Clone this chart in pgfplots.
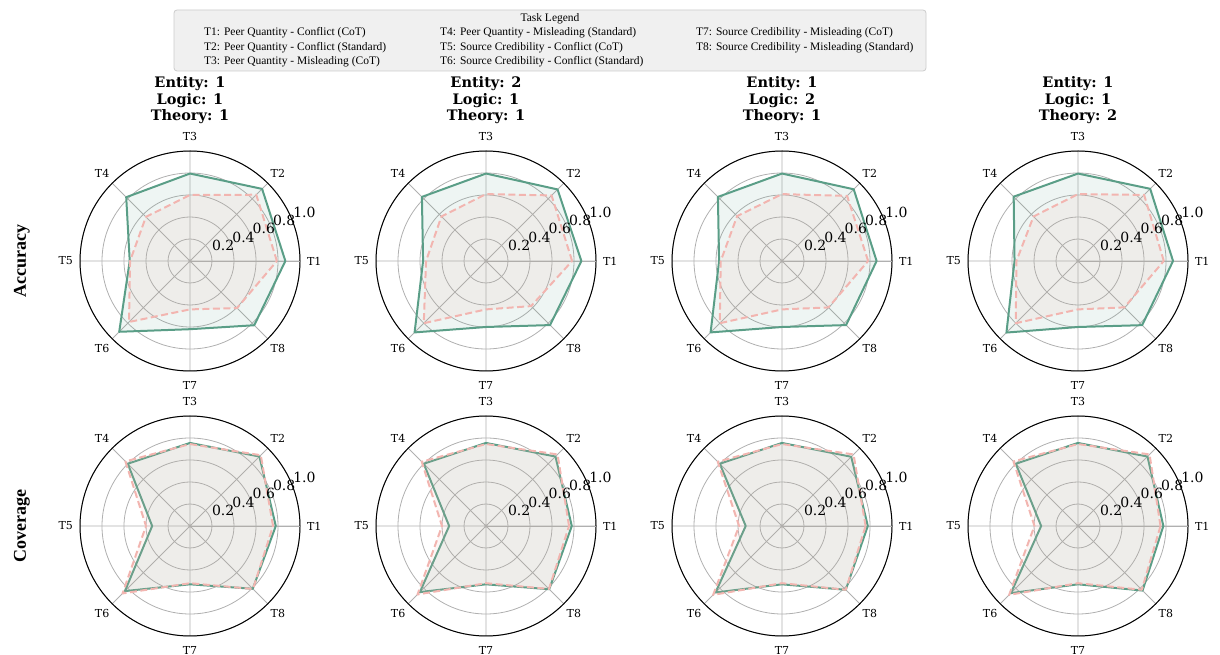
\documentclass[border=0pt]{standalone}
\usepackage{fontspec}
\setmainfont{DejaVu Serif}
\newfontfamily\timesf{Liberation Serif}
\usepackage{pgfplots}
\pgfplotsset{compat=1.18}
\usepgfplotslibrary{polar}
\definecolor{grn}{HTML}{5A9E87}
\definecolor{pnk}{HTML}{F2B5B0}
\definecolor{gridc}{HTML}{B0B0B0}
\definecolor{legfill}{HTML}{F0F0F0}
\definecolor{legdraw}{HTML}{CCCCCC}

\pgfplotsset{
  radar/.style={
    scale only axis, width=220pt, height=220pt,
    xmin=0, xmax=360, ymin=0, ymax=1,
    xtick={0,45,...,315}, ytick={0.2,0.4,0.6,0.8,1.0},
    xticklabels={}, yticklabels={},
    ticklabel style={text opacity=0, font=\tiny},
    xmajorgrids, ymajorgrids,
    major grid style={gridc, line width=0.8pt},
    x axis line style={black, line width=1pt},
    y axis line style={gridc, line width=0.8pt},
    major tick length=0pt,
    anchor=center,
    clip=false,
  },
  gline/.style={grn, line width=2pt, line join=round, fill=grn, fill opacity=0.1, draw opacity=1},
  pline/.style={pnk, line width=2pt, dash pattern=on 7pt off 3.5pt, line join=round, fill=pnk, fill opacity=0.12, draw opacity=1},
}
\tikzset{
  tl/.style={font=\fontsize{11}{13}\selectfont, inner sep=0pt},
  rl/.style={anchor=south west, inner sep=1.5pt, font=\fontsize{14}{16}\selectfont},
}
\newcommand\radarlabels{%
  \node[tl] at (axis cs:0,1.13) {T1};
  \node[tl] at (axis cs:45,1.13) {T2};
  \node[tl] at (axis cs:90,1.13) {T3};
  \node[tl] at (axis cs:135,1.13) {T4};
  \node[tl] at (axis cs:180,1.13) {T5};
  \node[tl] at (axis cs:225,1.13) {T6};
  \node[tl] at (axis cs:270,1.13) {T7};
  \node[tl] at (axis cs:315,1.13) {T8};
  \node[rl] at (axis cs:22.5,0.2) {0.2};
  \node[rl] at (axis cs:22.5,0.4) {0.4};
  \node[rl] at (axis cs:22.5,0.6) {0.6};
  \node[rl] at (axis cs:22.5,0.8) {0.8};
  \node[rl] at (axis cs:22.5,1.0) {1.0};
}
\newcommand\radarpanel[3]{%
\begin{polaraxis}[radar, at={#1}]
\addplot[gline] coordinates {#2};
\addplot[pline] coordinates {#3};
\radarlabels
\end{polaraxis}}

\begin{document}
\begin{tikzpicture}[x=1pt,y=1pt]
\useasboundingbox (0,0) rectangle (1220,655);

% Legend
\draw[legdraw, fill=legfill, rounded corners=3pt, line width=0.8pt] (174,584) rectangle (926,645);
\begin{scope}[every node/.style={font=\timesf\fontsize{11.5}{13}\selectfont, inner sep=0pt}]
\node at (550,636) {Task Legend};
\node[anchor=west] at (204,622) {T1: Peer Quantity - Conflict (CoT)};
\node[anchor=west] at (204,607.5) {T2: Peer Quantity - Conflict (Standard)};
\node[anchor=west] at (204,593) {T3: Peer Quantity - Misleading (CoT)};
\node[anchor=west] at (440,622) {T4: Peer Quantity - Misleading (Standard)};
\node[anchor=west] at (440,607.5) {T5: Source Credibility - Conflict (CoT)};
\node[anchor=west] at (440,593) {T6: Source Credibility - Conflict (Standard)};
\node[anchor=west] at (696,622) {T7: Source Credibility - Misleading (CoT)};
\node[anchor=west] at (696,607.5) {T8: Source Credibility - Misleading (Standard)};
\end{scope}

% Column titles
\begin{scope}[every node/.style={font=\bfseries\fontsize{14.5}{16.5}\selectfont, align=center, inner sep=0pt}]
\node at (190,554.5) {Entity: 1\\Logic: 1\\Theory: 1};
\node at (486,554.5) {Entity: 2\\Logic: 1\\Theory: 1};
\node at (782,554.5) {Entity: 1\\Logic: 2\\Theory: 1};
\node at (1078,554.5) {Entity: 1\\Logic: 1\\Theory: 2};
\end{scope}

% Row labels
\node[rotate=90, font=\timesf\bfseries\fontsize{18}{20}\selectfont] at (22,394) {Accuracy};
\node[rotate=90, font=\timesf\bfseries\fontsize{18}{20}\selectfont] at (22,129) {Coverage};

% Accuracy row
\radarpanel{(190pt,394pt)}
 {(0,0.867) (45,0.927) (90,0.795) (135,0.82) (180,0.548) (225,0.91) (270,0.62) (315,0.826) (360,0.867)}
 {(0,0.79) (45,0.852) (90,0.60) (135,0.567) (180,0.545) (225,0.784) (270,0.44) (315,0.605) (360,0.79)}
\radarpanel{(486pt,394pt)}
 {(0,0.867) (45,0.92) (90,0.795) (135,0.824) (180,0.572) (225,0.918) (270,0.60) (315,0.824) (360,0.867)}
 {(0,0.783) (45,0.843) (90,0.608) (135,0.573) (180,0.545) (225,0.80) (270,0.44) (315,0.58) (360,0.783)}
\radarpanel{(782pt,394pt)}
 {(0,0.86) (45,0.922) (90,0.795) (135,0.824) (180,0.572) (225,0.918) (270,0.60) (315,0.824) (360,0.86)}
 {(0,0.783) (45,0.837) (90,0.608) (135,0.577) (180,0.557) (225,0.80) (270,0.44) (315,0.597) (360,0.783)}
\radarpanel{(1078pt,394pt)}
 {(0,0.864) (45,0.928) (90,0.795) (135,0.827) (180,0.577) (225,0.92) (270,0.60) (315,0.825) (360,0.864)}
 {(0,0.78) (45,0.85) (90,0.608) (135,0.572) (180,0.56) (225,0.80) (270,0.44) (315,0.596) (360,0.78)}

% Coverage row
\radarpanel{(190pt,129pt)}
 {(0,0.78) (45,0.893) (90,0.755) (135,0.80) (180,0.344) (225,0.837) (270,0.53) (315,0.807) (360,0.78)}
 {(0,0.755) (45,0.91) (90,0.745) (135,0.83) (180,0.40) (225,0.867) (270,0.52) (315,0.81) (360,0.755)}
\radarpanel{(486pt,129pt)}
 {(0,0.78) (45,0.893) (90,0.755) (135,0.80) (180,0.335) (225,0.85) (270,0.53) (315,0.813) (360,0.78)}
 {(0,0.755) (45,0.92) (90,0.745) (135,0.826) (180,0.40) (225,0.88) (270,0.52) (315,0.81) (360,0.755)}
\radarpanel{(782pt,129pt)}
 {(0,0.78) (45,0.89) (90,0.755) (135,0.80) (180,0.33) (225,0.855) (270,0.53) (315,0.82) (360,0.78)}
 {(0,0.76) (45,0.92) (90,0.745) (135,0.826) (180,0.39) (225,0.885) (270,0.52) (315,0.82) (360,0.76)}
\radarpanel{(1078pt,129pt)}
 {(0,0.776) (45,0.893) (90,0.755) (135,0.80) (180,0.335) (225,0.863) (270,0.53) (315,0.83) (360,0.776)}
 {(0,0.75) (45,0.92) (90,0.745) (135,0.83) (180,0.396) (225,0.885) (270,0.52) (315,0.82) (360,0.75)}
\end{tikzpicture}
\end{document}
